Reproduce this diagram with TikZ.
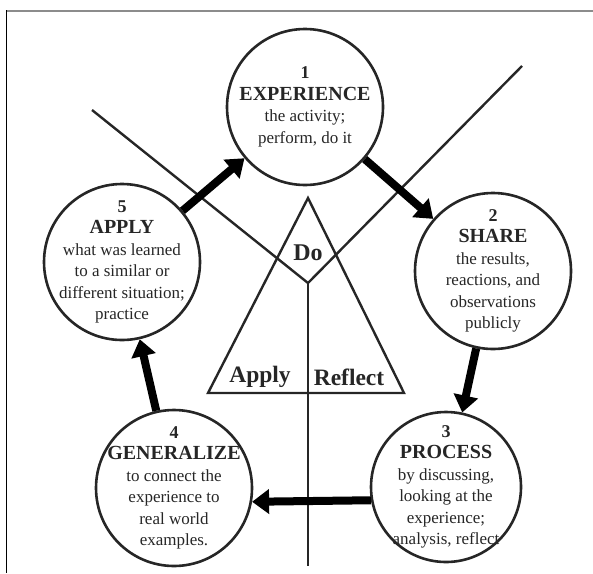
\documentclass[tikz,border=0pt]{standalone}
\usepackage{fontspec}
\setmainfont{Liberation Serif}
\usetikzlibrary{arrows.meta}
\newcommand{\cycnum}[1]{{\fontsize{18}{22}\selectfont\bfseries #1}}
\newcommand{\cyctitle}[1]{{\fontsize{20}{24}\selectfont\bfseries #1}}
\begin{document}
\begin{tikzpicture}[x=1pt,y=-1pt,
  stage/.style={circle, draw=black!85, line width=2.6pt, minimum size=156pt, inner sep=0pt},
  stagetext/.style={align=center, inner sep=0pt, font=\fontsize{17}{21.5}\selectfont, text=black!85},
  flow/.style={line width=8pt, -{Triangle[length=17pt,width=24pt]}},
  guide/.style={line width=2.4pt, draw=black!85, line join=miter},
  corner/.style={font=\fontsize{23.5}{24}\selectfont\bfseries, text=black!85, inner sep=0pt}
]
\useasboundingbox (0,0) rectangle (593,573);
% frame edges
\draw[gray!90, line width=2pt] (6,11) -- (593,11);
\draw[black, line width=1.5pt] (6.5,10) -- (6.5,573);

% triangle with the crossing guide lines
\coordinate (apex) at (308,198);
\coordinate (bl) at (208,393);
\coordinate (br) at (404,393);
\coordinate (v) at (308,283);
\coordinate (ll) at (92,110);
\coordinate (rr) at (522,66);
\coordinate (foot) at (308,566);
\draw[guide] (apex) -- (bl) -- (br) -- cycle;
\draw[guide] (ll) -- (v) -- (rr);
\draw[guide] (v) -- (foot);
\node[corner, font=\fontsize{24}{24}\selectfont\bfseries] (do) at (308,253) {Do};
\node[corner] (apply) at (260,377) {Apply};
\node[corner] (reflect) at (349,377) {Reflect};

% the five stages
\node[stage] (c1) at (305,107) {};
\node[stage] (c2) at (493,271) {};
\node[stage, minimum size=150pt] (c3) at (446,487) {};
\node[stage] (c4) at (174,488) {};
\node[stage] (c5) at (122,262) {};

\node[stagetext] (t1) at (c1) {\cycnum{1}\\\cyctitle{EXPERIENCE}\\the activity;\\perform, do it};
\node[stagetext] (t2) at (c2) {\cycnum{2}\\\cyctitle{SHARE}\\the results,\\reactions, and\\observations\\publicly};
\node[stagetext] (t3) at (c3) {\cycnum{3}\\\cyctitle{PROCESS}\\by discussing,\\looking at the\\experience;\\analysis, reflect};
\node[stagetext] (t4) at (c4) {\cycnum{4}\\\cyctitle{GENERALIZE}\\to connect the\\experience to\\real world\\examples.};
\node[stagetext] (t5) at (c5) {\cycnum{5}\\\cyctitle{APPLY}\\what was learned\\to a similar or\\different situation;\\practice};

% cycle arrows
\draw[flow] (c5) -- (c1);
\draw[flow] (c1) -- (c2);
\draw[flow] (c2) -- (c3);
\draw[flow] (c3.190) -- (c4.350);
\draw[flow] (c4) -- (c5);
\end{tikzpicture}
\end{document}
